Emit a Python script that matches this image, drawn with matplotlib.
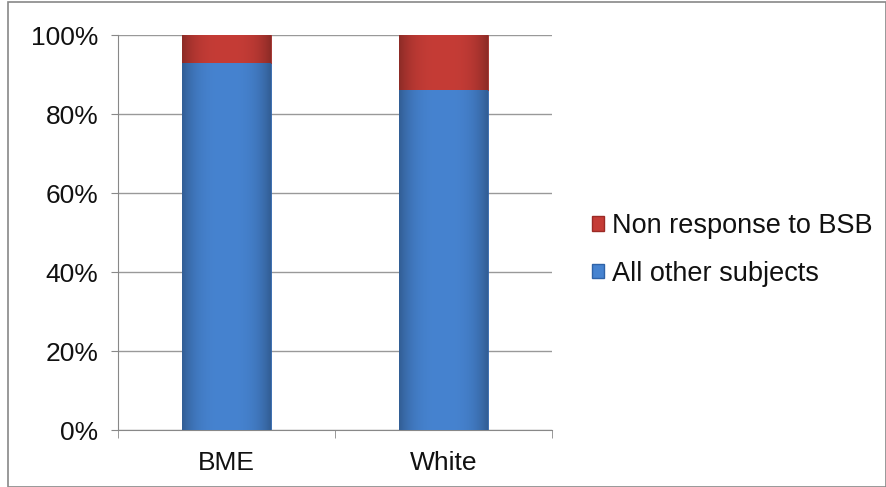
import matplotlib.pyplot as plt
import matplotlib.patches as mpatches
import matplotlib.colors as mcolors
import numpy as np

# data
groups = ["BME", "White"]
all_other = [93, 86]
non_response = [7, 14]

plt.rcParams['font.family'] = ['Liberation Sans', 'DejaVu Sans']

fig = plt.figure(figsize=(8.87, 4.87), dpi=100)
ax = fig.add_axes([0.133, 0.117, 0.489, 0.811])

x = np.arange(len(groups))
w = 0.41
blue = '#4683d0'
red = '#c53c36'


def shade(bars, color):
    # horizontal gradient: darker at the sides, lighter in the middle
    base = np.array(mcolors.to_rgb(color))
    t = np.linspace(-1, 1, 64)
    f = 1.0 - 0.28 * np.abs(t) ** 3
    img = np.clip(base[None, :] * f[:, None], 0, 1)[None, :, :]
    for b in bars:
        x0, y0 = b.get_x(), b.get_y()
        im = ax.imshow(img, extent=[x0, x0 + b.get_width(), y0, y0 + b.get_height()],
                       aspect='auto', zorder=3, interpolation='bilinear')
        im.set_clip_path(b)


b1 = ax.bar(x, all_other, w, color=blue, edgecolor='#2f63a8', linewidth=0.6,
            label='All other subjects', zorder=2)
b2 = ax.bar(x, non_response, w, bottom=all_other, color=red, edgecolor='#9b2a25',
            linewidth=0.6, label='Non response to BSB', zorder=2)
shade(b1, blue)
shade(b2, red)

ax.set_xlim(-0.5, 1.5)
ax.set_ylim(0, 100)
ax.set_yticks(range(0, 101, 20))
ax.set_yticklabels([f'{v}%' for v in range(0, 101, 20)], fontsize=19)
ax.set_xticks(x)
ax.set_xticklabels(groups, fontsize=19)
ax.tick_params(axis='x', length=0, pad=15)
ax.tick_params(axis='y', length=5, color='#888888', pad=9, colors='#111111')
ax.tick_params(axis='x', colors='#111111')
ax.set_xticks([-0.5, 0.5, 1.5], minor=True)
ax.tick_params(axis='x', which='minor', length=6, color='#888888')

ax.yaxis.grid(True, color='#999999', linewidth=1, zorder=0)
ax.set_axisbelow(True)
for s in ['top', 'right']:
    ax.spines[s].set_visible(False)
ax.spines['left'].set_color('#888888')
ax.spines['bottom'].set_color('#888888')

handles = [mpatches.Patch(facecolor=red, edgecolor='#9b2a25'),
           mpatches.Patch(facecolor=blue, edgecolor='#2f63a8')]
fig.legend(handles, ['Non response to BSB', 'All other subjects'],
           loc='center left', bbox_to_anchor=(0.64, 0.487), frameon=False,
           fontsize=19.5, handlelength=0.45, handleheight=0.45,
           handletextpad=0.3, labelspacing=0.8, labelcolor='#111111')

# outer frame
fig.patches.append(mpatches.Rectangle((0.009, 0.0), 0.99, 0.995, transform=fig.transFigure,
                                      fill=False, edgecolor='#888888', linewidth=1.2))

fig.savefig('out.png', dpi=100)
